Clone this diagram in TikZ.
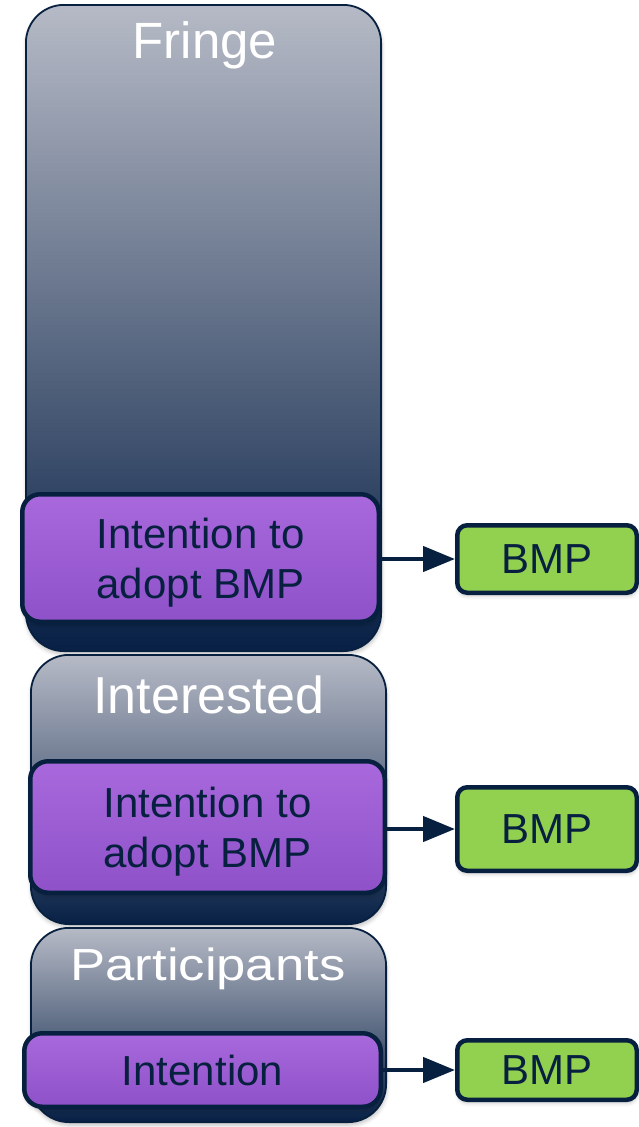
\documentclass[tikz,border=0pt]{standalone}
\usepackage{fontspec}
\setmainfont{Liberation Sans}
\usepackage{graphicx}
\usetikzlibrary{arrows.meta,shadows.blur}

\definecolor{navy}{HTML}{08203F}
\definecolor{tiertop}{HTML}{B6BAC6}
\definecolor{tierbot}{HTML}{072045}
\definecolor{purptop}{HTML}{A969DD}
\definecolor{purpbot}{HTML}{8E51C8}
\definecolor{bmpgreen}{HTML}{92D050}

\tikzset{
  softshadow/.style={blur shadow={shadow xshift=0.5pt,shadow yshift=-3pt,
      shadow blur radius=4pt,shadow opacity=25}},
  tier/.style={draw=navy, line width=1.8pt, rounded corners=38pt,
      top color=tiertop, bottom color=tierbot, inner sep=0pt, softshadow},
  tiertitle/.style={anchor=base, text=white, inner sep=0pt},
  intent/.style={draw=navy, line width=4.5pt, rounded corners=18pt,
      top color=purptop, bottom color=purpbot, text=navy, align=center,
      font=\fontsize{42}{50}\selectfont, inner sep=0pt, text depth=0pt,
      softshadow},
  practice/.style={draw=navy, line width=4.5pt, rounded corners=10pt,
      fill=bmpgreen, text=navy, font=\fontsize{42}{50}\selectfont,
      inner sep=0pt, minimum width=179.5pt, softshadow},
  flow/.style={draw=navy, line width=4.5pt,
      -{Triangle[length=32pt,width=25pt]}}
}

\begin{document}
\begin{tikzpicture}[x=1pt,y=-1pt]
\useasboundingbox (0,0) rectangle (638,1127);

% Fringe tier
\node[tier, minimum width=355.2pt, minimum height=646.2pt] (fringe) at (203.5,328) {};
\node[tiertitle, font=\fontsize{51}{60}\selectfont] (fringeT) at (205,58) {Fringe};
\node[intent, minimum width=356.5pt, minimum height=127.5pt] (int1) at (200.5,558)
  {Intention to\\adopt BMP};

% Interested tier
\node[tier, minimum width=355.2pt, minimum height=269.2pt] (interested) at (208.5,789.5) {};
\node[tiertitle, font=\fontsize{52}{60}\selectfont] (interestedT) at (209,713) {Interested};
\node[intent, minimum width=354.5pt, minimum height=131.5pt] (int2) at (207.5,827)
  {Intention to\\adopt BMP};

% Participants tier
\node[tier, minimum width=355.2pt, minimum height=194.2pt] (participants) at (208.5,1025) {};
\node[tiertitle, font=\fontsize{45}{54}\selectfont] (participantsT) at (208,980)
  {\scalebox{1.17}[1]{Participants}};
\node[intent, minimum width=356.5pt, minimum height=73.5pt] (int3) at (202.5,1070)
  {Intention};

% Adopted practices
\node[practice, minimum height=67.5pt] (bmp1) at (547,559) {BMP};
\node[practice, minimum height=83.5pt] (bmp2) at (547,829) {BMP};
\node[practice, minimum height=59.5pt] (bmp3) at (547,1070) {BMP};

% Links from intention to practice
\draw[flow] (int1.east |- bmp1) -- (bmp1.west);
\draw[flow] (int2.east |- bmp2) -- (bmp2.west);
\draw[flow] (int3.east |- bmp3) -- (bmp3.west);
\end{tikzpicture}
\end{document}
